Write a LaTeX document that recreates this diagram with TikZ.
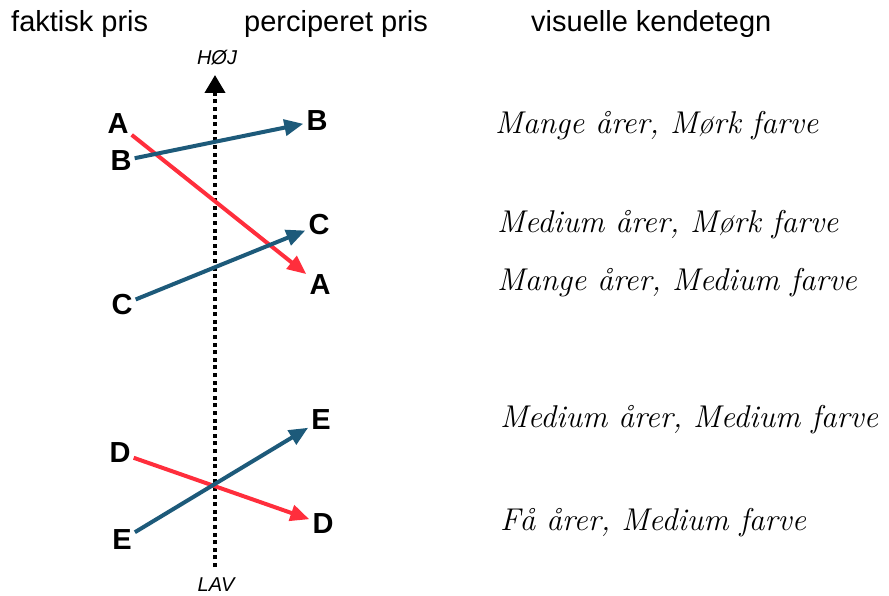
\documentclass[tikz,border=0pt]{standalone}
\usepackage{fontspec}
\setmainfont{Liberation Sans}
\usepackage{xcolor}
\usepackage{tikz}
\usetikzlibrary{arrows.meta,positioning}
\definecolor{PrisRed}{HTML}{FF2E3C}
\definecolor{PrisBlue}{HTML}{1D5A7A}
\newfontfamily\handfont{Latin Modern Roman}

\begin{document}
\begin{tikzpicture}[
  x=1pt, y=-1pt,
  head/.style={anchor=base west,font=\fontsize{29}{32}\selectfont,inner sep=0pt},
  letter/.style={font=\fontsize{29}{32}\selectfont\bfseries,inner sep=3pt},
  cue/.style={anchor=west,font=\handfont\itshape\fontsize{31.5}{34}\selectfont,inner sep=0pt},
  axislabel/.style={font=\fontsize{20}{22}\selectfont\itshape,inner sep=0pt},
  rise/.style={-{Triangle[length=19pt,width=16pt]},line width=4pt,PrisBlue},
  fall/.style={-{Triangle[length=19pt,width=16pt]},line width=4pt,PrisRed}
]
  \useasboundingbox (0,0) rectangle (889,596);
  % column heads
  \node[head] (faktisk) at (11,32) {faktisk pris};
  \node[head] (perc) at (244,32) {perciperet pris};
  \node[head] (visuel) at (531,32) {visuelle kendetegn};
  % price axis
  \node[axislabel] (hoj) at (217,58) {HØJ};
  \node[axislabel] (lav) at (216,585) {LAV};
  \coordinate (low) at (215,567);
  \coordinate (high) at (215,75);
  \draw[line width=4pt,dash pattern=on 4pt off 3.6pt,-{Triangle[length=18pt,width=20pt]}] (low) -- (high);
  % faktisk pris
  \node[letter] (fA) at (118,124) {A};
  \node[letter] (fB) at (121,161) {B};
  \node[letter] (fC) at (122,305) {C};
  \node[letter] (fD) at (120,453) {D};
  \node[letter] (fE) at (122,540) {E};
  % perciperet pris
  \node[letter] (pB) at (317,121) {B};
  \node[letter] (pC) at (319,225) {C};
  \node[letter] (pA) at (320,285) {A};
  \node[letter] (pE) at (321,420) {E};
  \node[letter] (pD) at (323,524) {D};
  % visuelle kendetegn
  \node[cue] (vB) at (495,126) {Mange årer, Mørk farve};
  \node[cue] (vC) at (497,225) {Medium årer, Mørk farve};
  \node[cue] (vA) at (497,283) {Mange årer, Medium farve};
  \node[cue] (vE) at (500,420) {Medium årer, Medium farve};
  \node[cue] (vD) at (500,523) {Få årer, Medium farve};
  % shifts
  \draw[fall] (fA) -- (pA);
  \draw[rise] (fB) -- (pB);
  \draw[rise] (fC) -- (pC);
  \draw[fall] (fD) -- (pD);
  \draw[rise] (fE) -- (pE);
\end{tikzpicture}
\end{document}
